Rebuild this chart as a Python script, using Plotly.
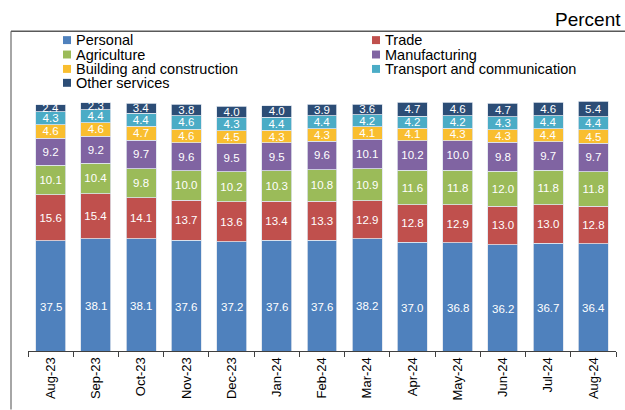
import plotly.graph_objects as go

months = ["Aug-23", "Sep-23", "Oct-23", "Nov-23", "Dec-23", "Jan-24", "Feb-24",
          "Mar-24", "Apr-24", "May-24", "Jun-24", "Jul-24", "Aug-24"]

personal = [37.5, 38.1, 38.1, 37.6, 37.2, 37.6, 37.6, 38.2, 37.0, 36.8, 36.2, 36.7, 36.4]
trade = [15.6, 15.4, 14.1, 13.7, 13.6, 13.4, 13.3, 12.9, 12.8, 12.9, 13.0, 13.0, 12.8]
agriculture = [10.1, 10.4, 9.8, 10.0, 10.2, 10.3, 10.8, 10.9, 11.6, 11.8, 12.0, 11.8, 11.8]
manufacturing = [9.2, 9.2, 9.7, 9.6, 9.5, 9.5, 9.6, 10.1, 10.2, 10.0, 9.8, 9.7, 9.7]
building = [4.6, 4.6, 4.7, 4.6, 4.5, 4.3, 4.3, 4.1, 4.1, 4.3, 4.3, 4.4, 4.5]
transport = [4.3, 4.4, 4.4, 4.6, 4.3, 4.4, 4.4, 4.2, 4.2, 4.2, 4.3, 4.4, 4.4]
other = [2.4, 2.3, 3.4, 3.8, 4.0, 4.0, 3.9, 3.6, 4.7, 4.6, 4.7, 4.6, 5.4]

series_names = ["Personal", "Trade", "Agriculture", "Manufacturing",
                "Building and construction", "Transport and communication", "Other services"]
series_values = [personal, trade, agriculture, manufacturing, building, transport, other]
colors = ["#4F81BD", "#C0504D", "#9BBB59", "#8064A2", "#F9BE2F", "#4BACC6", "#2C4D76"]

FONT = "Liberation Sans, Arial, sans-serif"
W, H = 625, 410
L, R, T, B = 28, 9, 57, 57
PW, PH = W - L - R, H - T - B


def px(x):
    return (x - L) / PW


def py(y):
    return (H - B - y) / PH


fig = go.Figure()
for i, (name, vals, col) in enumerate(zip(series_names, series_values, colors)):
    fig.add_trace(go.Bar(
        x=months, y=vals, name=name,
        marker=dict(color=col, line=dict(color="#dfe5ee", width=0.8)),
        text=[f"{v:.1f}" for v in vals] if i > 0 else None,
        textposition="inside" if i > 0 else "none",
        insidetextanchor="middle",
        textangle=0,
        textfont=dict(color="white", size=11.5, family=FONT),
        cliponaxis=False,
        showlegend=False,
        hoverinfo="skip",
    ))

annotations = []
# Personal labels (drawn slightly below segment centre as in the reference)
for m, v in zip(months, personal):
    annotations.append(dict(x=m, y=v / 2, xref="x", yref="y", text=f"{v:.1f}",
                            showarrow=False, yshift=-11,
                            font=dict(color="white", size=11.5, family=FONT)))

shapes = []
# legend
leg_cols = [67, 376]
leg_rows = [40, 54.5, 69, 83]
for i, (name, col) in enumerate(zip(series_names, colors)):
    cx = leg_cols[i % 2]
    cy = leg_rows[i // 2]
    shapes.append(dict(type="rect", xref="paper", yref="paper",
                       x0=px(cx - 4), x1=px(cx + 4), y0=py(cy + 4), y1=py(cy - 4),
                       fillcolor=col, line=dict(width=0)))
    annotations.append(dict(x=px(cx + 7), y=py(cy), xref="paper", yref="paper",
                            text=name, showarrow=False, xanchor="left", yanchor="middle",
                            font=dict(size=14.5, color="black", family=FONT)))

# frame lines
shapes.append(dict(type="line", xref="paper", yref="paper",
                   x0=px(11), x1=px(11), y0=py(31), y1=py(412),
                   line=dict(color="#a6a6a6", width=2)))
shapes.append(dict(type="line", xref="paper", yref="paper",
                   x0=px(11), x1=px(630), y0=py(31), y1=py(31),
                   line=dict(color="#595959", width=1.5)))

annotations.append(dict(x=px(623), y=py(19), xref="paper", yref="paper", text="Percent",
                        showarrow=False, xanchor="right", yanchor="middle",
                        font=dict(size=19, color="black", family=FONT)))

fig.update_layout(
    barmode="stack",
    bargap=0.337,
    width=W, height=H, autosize=False,
    margin=dict(l=L, r=R, t=T, b=B, pad=0),
    paper_bgcolor="white", plot_bgcolor="white",
    uniformtext=dict(minsize=11.5, mode="show"),
    font=dict(family=FONT),
    hovermode=False,
    xaxis=dict(
        type="category", showline=True, linecolor="#404040", linewidth=1,
        ticks="outside", tickson="boundaries", ticklen=5, tickcolor="#404040",
        tickangle=-90, tickfont=dict(size=13, color="black", family=FONT),
        showgrid=False, zeroline=False, fixedrange=True,
    ),
    yaxis=dict(range=[0, 100], visible=False, showgrid=False, zeroline=False,
               fixedrange=True),
    shapes=shapes,
    annotations=annotations,
)

fig.write_html(
    "out.html",
    config={"displayModeBar": False, "staticPlot": True},
    post_script="document.body.style.margin='0';document.body.style.padding='0';"
                "document.body.style.overflow='hidden';",
)
